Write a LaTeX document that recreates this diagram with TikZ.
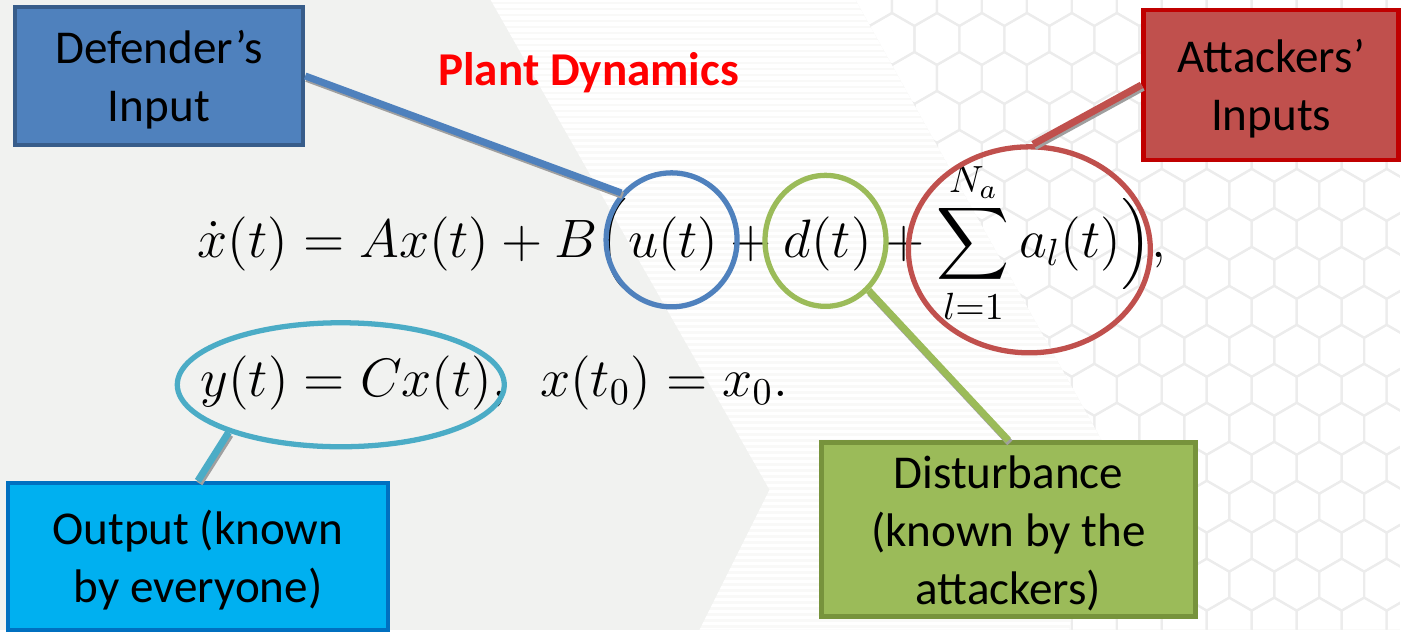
\RequirePackage{fix-cm}
\documentclass[tikz,border=0pt]{standalone}
\usepackage{amsmath}
\usepackage{fontspec}
\setmainfont{Carlito}
\usetikzlibrary{shapes.geometric}
\definecolor{DefBlue}{HTML}{4F81BD}
\definecolor{DefEdge}{HTML}{385D8A}
\definecolor{AttRed}{HTML}{C0504D}
\definecolor{AttEdge}{HTML}{C00000}
\definecolor{OutCyan}{HTML}{00B0F0}
\definecolor{OutEdge}{HTML}{0070C0}
\definecolor{DistGreen}{HTML}{9BBB59}
\definecolor{DistEdge}{HTML}{77933C}
\definecolor{RingCyan}{HTML}{4BACC6}
\definecolor{Paper}{HTML}{F1F2F0}
\definecolor{HexLine}{HTML}{ECECEC}
\newcommand{\hexcell}[2]{%
  \draw[HexLine,line width=0.6pt] (#1,#2) +(30:26) -- +(90:26) -- +(150:26) -- +(210:26) -- +(270:26) -- +(330:26) -- cycle;
}
\tikzset{
  infobox/.style={draw=#1,line width=1.3pt,align=center,inner sep=0pt,text depth=-3pt,font=\fontsize{13.4}{16.5}\selectfont},
  ring/.style={draw=#1,ellipse,line width=1.5pt,inner sep=0pt},
  link/.style={draw=#1,line width=2pt},
  linkshade/.style={draw=gray!75,line width=2pt,transform canvas={shift={(1.5,2.5)}}},
  eqline/.style={anchor=base west,inner sep=0pt,font=\fontsize{15.4}{18}\selectfont}
}

\begin{document}
\begin{tikzpicture}[x=0.01cm,y=-0.01cm]
        \fill[Paper] (0,0) rectangle (1401,630);
        \fill[white] (856,0) -- (1401,0) -- (1401,630) -- (1070,630) -- (1102,440) -- cycle;
        \begin{scope}
          \clip (856,0) -- (1401,0) -- (1401,630) -- (1070,630) -- (1102,440) -- cycle;
          \foreach \j in {0,...,17}{\foreach \i in {0,...,13}{%
            \pgfmathsetmacro\hx{870+45*\i+22.5*mod(\j,2)}\hexcell{\hx}{39*\j}}}
        \end{scope}
        \begin{scope}
          \clip (491,0) -- (856,0) -- (1102,440) -- (1070,630) -- (700,630) -- (770,490) -- cycle;
          \fill[white!55!Paper] (400,0) rectangle (1200,630);
          \foreach \s in {0,6,...,630} \draw[white,line width=0.9pt] (400,\s) -- (1200,\s);
        \end{scope}
        \node[eqline] (eqone) at (197,258) {$\displaystyle \dot{x}(t) = Ax(t) + B\Big(u(t) + d(t) + \sum_{l=1}^{N_a} a_l(t)\Big),$};
        \node[eqline] (eqtwo) at (200,397) {$y(t) = Cx(t),\;\, x(t_0) = x_0.$};
        \node[font=\fontsize{13.4}{16}\selectfont\bfseries,text=red] (title) at (589,73) {Plant Dynamics};
        \node[infobox=DefEdge,fill=DefBlue,minimum width=2.88cm,minimum height=1.38cm] (defbox) at (159,76) {Defender’s\\Input};
        \node[infobox=AttEdge,fill=AttRed,minimum width=2.55cm,minimum height=1.50cm] (attbox) at (1272,85) {Attackers’\\Inputs};
        \node[infobox=OutEdge,fill=OutCyan,minimum width=3.80cm,minimum height=1.47cm] (outbox) at (198,557) {Output (known\\by everyone)};
        \node[infobox=DistEdge,fill=DistGreen,minimum width=3.74cm,minimum height=1.74cm] (distbox) at (1009,530) {Disturbance\\(known by the\\attackers)};
        \node[ring=DefBlue,minimum width=1.31cm,minimum height=1.34cm] (uring) at (672,240) {};
        \node[ring=DistGreen,minimum width=1.21cm,minimum height=1.31cm] (dring) at (826,241) {};
        \node[ring=AttRed,minimum width=2.42cm,minimum height=2.06cm] (sumring) at (1030,250) {};
        \node[ring=RingCyan,minimum width=3.27cm,minimum height=1.24cm] (yring) at (341,385) {};
        \draw[linkshade] (defbox.east) -- (uring.137);
        \draw[link=DefBlue] (defbox.east) -- (uring.137);
        \draw[linkshade] (attbox.west) -- (sumring.88);
        \draw[link=AttRed] (attbox.west) -- (sumring.88);
        \draw[linkshade] (dring.-49) -- (distbox.north);
        \draw[link=DistGreen] (dring.-49) -- (distbox.north);
        \draw[linkshade] (yring.203) -- (outbox.north);
        \draw[link=RingCyan] (yring.203) -- (outbox.north);
      \end{tikzpicture}
\end{document}
